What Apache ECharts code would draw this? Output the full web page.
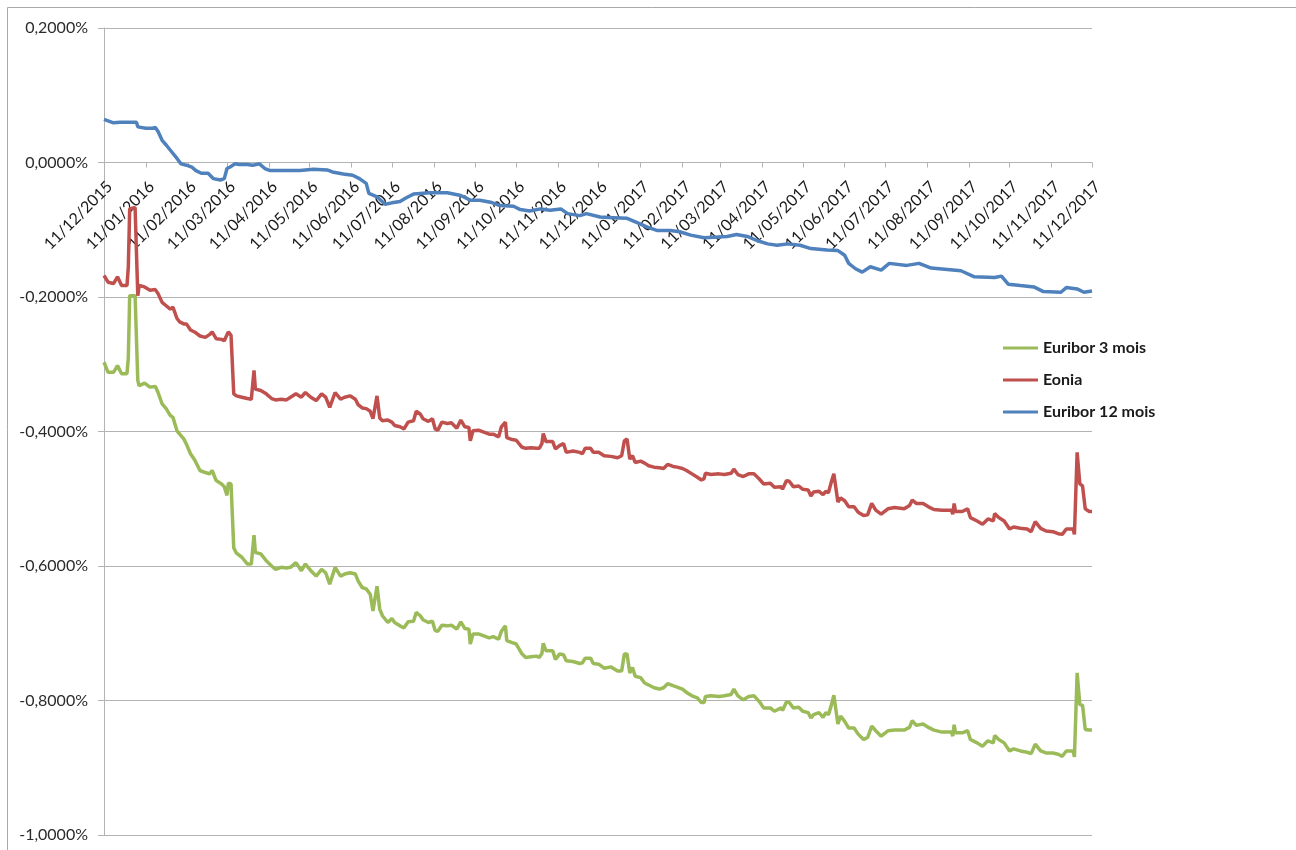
<!DOCTYPE html>
<html>
<head>
<meta charset="utf-8">
<title>Eonia / Euribor</title>
<script src="https://cdn.jsdelivr.net/npm/echarts@6/dist/echarts.min.js"></script>
<style>
  html, body { margin: 0; padding: 0; background: #ffffff; }
  #chart { width: 1296px; height: 850px; }
</style>
</head>
<body>
<div id="chart"></div>
<script>
// Month ticks on the date axis (the 11th of each month)
const tickLabels = [
  '11/12/2015', '11/01/2016', '11/02/2016', '11/03/2016', '11/04/2016', '11/05/2016',
  '11/06/2016', '11/07/2016', '11/08/2016', '11/09/2016', '11/10/2016', '11/11/2016',
  '11/12/2016', '11/01/2017', '11/02/2017', '11/03/2017', '11/04/2017', '11/05/2017',
  '11/06/2017', '11/07/2017', '11/08/2017', '11/09/2017', '11/10/2017', '11/11/2017',
  '11/12/2017'
];

// Observation dates shared by Eonia and Euribor 3 mois
const datesShort = [
  '2015-12-11','2015-12-14','2015-12-18','2015-12-21','2015-12-24','2015-12-28','2015-12-29','2015-12-30',
  '2016-01-03','2016-01-05','2016-01-06','2016-01-10','2016-01-14','2016-01-18','2016-01-20','2016-01-23',
  '2016-01-26','2016-01-29','2016-01-31','2016-02-03','2016-02-05','2016-02-08','2016-02-10','2016-02-13',
  '2016-02-16','2016-02-20','2016-02-24','2016-02-27','2016-02-29','2016-03-03','2016-03-07','2016-03-09',
  '2016-03-11','2016-03-12','2016-03-14','2016-03-16','2016-03-18','2016-03-22','2016-03-26','2016-03-29',
  '2016-03-31','2016-04-01','2016-04-05','2016-04-09','2016-04-13','2016-04-16','2016-04-20','2016-04-24',
  '2016-04-27','2016-05-01','2016-05-05','2016-05-08','2016-05-12','2016-05-16','2016-05-20','2016-05-23',
  '2016-05-26','2016-05-30','2016-06-03','2016-06-06','2016-06-10','2016-06-14','2016-06-16','2016-06-19',
  '2016-06-22','2016-06-25','2016-06-27','2016-06-30','2016-07-02','2016-07-04','2016-07-08','2016-07-11',
  '2016-07-13','2016-07-17','2016-07-20','2016-07-23','2016-07-27','2016-07-29','2016-08-01','2016-08-03',
  '2016-08-07','2016-08-10','2016-08-12','2016-08-14','2016-08-17','2016-08-21','2016-08-24','2016-08-28',
  '2016-08-31','2016-09-03','2016-09-06','2016-09-07','2016-09-09','2016-09-13','2016-09-17','2016-09-21',
  '2016-09-24','2016-09-28','2016-09-30','2016-10-03','2016-10-04','2016-10-08','2016-10-11','2016-10-15',
  '2016-10-18','2016-10-22','2016-10-26','2016-10-28','2016-10-30','2016-10-31','2016-11-02','2016-11-07',
  '2016-11-09','2016-11-12','2016-11-15','2016-11-17','2016-11-22','2016-11-27','2016-11-29','2016-12-01',
  '2016-12-05','2016-12-07','2016-12-11','2016-12-15','2016-12-20','2016-12-25','2016-12-28','2016-12-30',
  '2017-01-01','2017-01-03','2017-01-05','2017-01-07','2017-01-11','2017-01-14','2017-01-17','2017-01-21',
  '2017-01-25','2017-01-28','2017-01-31','2017-02-04','2017-02-07','2017-02-11','2017-02-14','2017-02-18',
  '2017-02-22','2017-02-25','2017-02-27','2017-02-28','2017-03-04','2017-03-10','2017-03-14','2017-03-19',
  '2017-03-21','2017-03-24','2017-03-28','2017-04-01','2017-04-05','2017-04-09','2017-04-12','2017-04-17',
  '2017-04-20','2017-04-25','2017-04-26','2017-04-29','2017-05-01','2017-05-04','2017-05-08','2017-05-11',
  '2017-05-15','2017-05-17','2017-05-19','2017-05-23','2017-05-26','2017-05-28','2017-05-30','2017-06-01',
  '2017-06-03','2017-06-04','2017-06-06','2017-06-08','2017-06-11','2017-06-14','2017-06-18','2017-06-21',
  '2017-06-25','2017-06-28','2017-07-01','2017-07-04','2017-07-08','2017-07-13','2017-07-18','2017-07-25',
  '2017-07-29','2017-07-31','2017-08-03','2017-08-08','2017-08-12','2017-08-16','2017-08-22','2017-08-29',
  '2017-08-30','2017-08-31','2017-09-01','2017-09-06','2017-09-10','2017-09-12','2017-09-17','2017-09-21',
  '2017-09-25','2017-09-29','2017-09-30','2017-10-03','2017-10-07','2017-10-11','2017-10-14','2017-10-19',
  '2017-10-24','2017-10-27','2017-10-30','2017-11-03','2017-11-07','2017-11-12','2017-11-16','2017-11-19',
  '2017-11-22','2017-11-27','2017-11-28','2017-11-30','2017-12-02','2017-12-04','2017-12-06','2017-12-09',
  '2017-12-11'
];

// Eonia (%)
const eonia = [
  -0.168,-0.178,-0.180,-0.170,-0.183,-0.183,-0.155,-0.069,
  -0.067,-0.198,-0.183,-0.185,-0.190,-0.189,-0.195,-0.208,
  -0.213,-0.218,-0.215,-0.232,-0.237,-0.240,-0.240,-0.249,
  -0.252,-0.258,-0.260,-0.256,-0.252,-0.262,-0.263,-0.265,
  -0.256,-0.252,-0.257,-0.344,-0.347,-0.349,-0.351,-0.352,
  -0.309,-0.337,-0.339,-0.344,-0.351,-0.353,-0.352,-0.353,
  -0.349,-0.344,-0.349,-0.342,-0.349,-0.354,-0.344,-0.349,
  -0.364,-0.342,-0.352,-0.349,-0.347,-0.352,-0.360,-0.365,
  -0.366,-0.370,-0.381,-0.347,-0.380,-0.384,-0.383,-0.386,
  -0.391,-0.393,-0.396,-0.386,-0.384,-0.370,-0.374,-0.381,
  -0.385,-0.381,-0.396,-0.398,-0.386,-0.388,-0.387,-0.395,
  -0.383,-0.393,-0.394,-0.414,-0.399,-0.398,-0.401,-0.404,
  -0.404,-0.408,-0.393,-0.386,-0.409,-0.412,-0.413,-0.423,
  -0.425,-0.424,-0.425,-0.425,-0.418,-0.403,-0.415,-0.415,
  -0.426,-0.421,-0.418,-0.431,-0.429,-0.431,-0.433,-0.425,
  -0.425,-0.431,-0.431,-0.436,-0.437,-0.439,-0.436,-0.414,
  -0.411,-0.441,-0.436,-0.446,-0.444,-0.447,-0.451,-0.453,
  -0.454,-0.455,-0.449,-0.452,-0.453,-0.455,-0.458,-0.463,
  -0.468,-0.472,-0.470,-0.462,-0.464,-0.463,-0.464,-0.462,
  -0.456,-0.464,-0.467,-0.463,-0.463,-0.471,-0.478,-0.477,
  -0.483,-0.482,-0.486,-0.473,-0.474,-0.482,-0.481,-0.486,
  -0.487,-0.496,-0.490,-0.489,-0.494,-0.489,-0.491,-0.476,
  -0.463,-0.463,-0.505,-0.499,-0.503,-0.512,-0.512,-0.520,
  -0.525,-0.524,-0.507,-0.517,-0.523,-0.515,-0.513,-0.515,
  -0.510,-0.502,-0.507,-0.507,-0.512,-0.516,-0.517,-0.517,
  -0.523,-0.507,-0.519,-0.519,-0.515,-0.528,-0.533,-0.538,
  -0.530,-0.533,-0.522,-0.528,-0.533,-0.545,-0.542,-0.544,
  -0.545,-0.549,-0.534,-0.544,-0.548,-0.549,-0.552,-0.553,
  -0.545,-0.545,-0.553,-0.431,-0.478,-0.481,-0.515,-0.519,
  -0.519
];

// Euribor 3 mois (%)
const euribor3m = [
  -0.297,-0.312,-0.312,-0.302,-0.314,-0.314,-0.290,-0.198,
  -0.198,-0.324,-0.332,-0.328,-0.334,-0.333,-0.342,-0.359,
  -0.366,-0.376,-0.379,-0.399,-0.404,-0.411,-0.419,-0.433,
  -0.442,-0.458,-0.461,-0.463,-0.458,-0.473,-0.478,-0.482,
  -0.495,-0.477,-0.478,-0.573,-0.581,-0.587,-0.597,-0.597,
  -0.554,-0.580,-0.582,-0.592,-0.600,-0.605,-0.602,-0.603,
  -0.602,-0.595,-0.607,-0.597,-0.607,-0.615,-0.605,-0.610,
  -0.627,-0.602,-0.615,-0.612,-0.610,-0.612,-0.622,-0.632,
  -0.634,-0.642,-0.667,-0.630,-0.664,-0.674,-0.684,-0.678,
  -0.684,-0.689,-0.692,-0.683,-0.682,-0.669,-0.674,-0.680,
  -0.684,-0.682,-0.696,-0.697,-0.688,-0.689,-0.688,-0.694,
  -0.683,-0.693,-0.694,-0.716,-0.701,-0.701,-0.704,-0.707,
  -0.705,-0.709,-0.697,-0.689,-0.711,-0.714,-0.716,-0.730,
  -0.736,-0.735,-0.734,-0.736,-0.730,-0.715,-0.726,-0.726,
  -0.739,-0.731,-0.732,-0.741,-0.742,-0.745,-0.744,-0.737,
  -0.737,-0.745,-0.746,-0.752,-0.750,-0.756,-0.756,-0.731,
  -0.731,-0.759,-0.751,-0.764,-0.766,-0.774,-0.777,-0.781,
  -0.783,-0.781,-0.775,-0.778,-0.780,-0.783,-0.788,-0.793,
  -0.796,-0.803,-0.803,-0.794,-0.793,-0.794,-0.793,-0.791,
  -0.783,-0.793,-0.799,-0.794,-0.793,-0.802,-0.811,-0.811,
  -0.816,-0.811,-0.815,-0.802,-0.803,-0.811,-0.810,-0.816,
  -0.818,-0.826,-0.821,-0.818,-0.825,-0.818,-0.821,-0.808,
  -0.792,-0.792,-0.835,-0.823,-0.831,-0.841,-0.841,-0.850,
  -0.858,-0.855,-0.838,-0.845,-0.853,-0.845,-0.844,-0.844,
  -0.840,-0.830,-0.837,-0.835,-0.840,-0.844,-0.847,-0.847,
  -0.853,-0.836,-0.848,-0.848,-0.845,-0.858,-0.863,-0.868,
  -0.860,-0.863,-0.852,-0.858,-0.863,-0.875,-0.872,-0.875,
  -0.877,-0.879,-0.865,-0.875,-0.878,-0.878,-0.880,-0.883,
  -0.875,-0.875,-0.884,-0.759,-0.806,-0.807,-0.843,-0.844,
  -0.844
];

// Observation dates for Euribor 12 mois
const dates12m = [
  '2015-12-11','2015-12-18','2015-12-23','2016-01-04','2016-01-05','2016-01-11','2016-01-16','2016-01-18',
  '2016-01-20','2016-01-23','2016-01-26','2016-01-30','2016-02-03','2016-02-06','2016-02-10','2016-02-14',
  '2016-02-17','2016-02-21','2016-02-26','2016-03-01','2016-03-06','2016-03-09','2016-03-11','2016-03-13',
  '2016-03-17','2016-03-20','2016-03-26','2016-03-30','2016-04-04','2016-04-08','2016-04-12','2016-04-21',
  '2016-05-04','2016-05-14','2016-05-24','2016-05-28','2016-06-05','2016-06-12','2016-06-17','2016-06-22',
  '2016-06-24','2016-06-30','2016-07-06','2016-07-11','2016-07-17','2016-07-22','2016-07-27','2016-08-08',
  '2016-08-21','2016-08-31','2016-09-07','2016-09-14','2016-09-22','2016-09-29','2016-10-09','2016-10-14',
  '2016-10-21','2016-10-29','2016-11-05','2016-11-13','2016-11-18','2016-11-27','2016-12-02','2016-12-12',
  '2016-12-22','2017-01-01','2017-01-08','2017-01-16','2017-01-23','2017-02-02','2017-02-09','2017-02-17',
  '2017-02-27','2017-03-06','2017-03-16','2017-03-23','2017-03-31','2017-04-07','2017-04-15','2017-04-22',
  '2017-04-30','2017-05-09','2017-05-17','2017-05-29','2017-06-06','2017-06-11','2017-06-14','2017-06-19',
  '2017-06-24','2017-06-30','2017-07-08','2017-07-14','2017-07-27','2017-08-05','2017-08-14','2017-08-26',
  '2017-09-05','2017-09-15','2017-09-30','2017-10-05','2017-10-10','2017-10-19','2017-10-29','2017-11-05',
  '2017-11-18','2017-11-22','2017-11-30','2017-12-05','2017-12-11'
];

// Euribor 12 mois (%)
const euribor12m = [
  0.064, 0.059, 0.060, 0.060, 0.053, 0.051, 0.051, 0.052,
  0.046, 0.033, 0.026, 0.016, 0.006,-0.002,-0.004,-0.007,
  -0.012,-0.016,-0.016,-0.024,-0.026,-0.024,-0.009,-0.007,
  -0.002,-0.003,-0.003,-0.004,-0.002,-0.009,-0.012,-0.012,
  -0.012,-0.010,-0.011,-0.014,-0.017,-0.019,-0.024,-0.031,
  -0.046,-0.051,-0.062,-0.060,-0.058,-0.052,-0.047,-0.045,
  -0.045,-0.049,-0.056,-0.056,-0.059,-0.064,-0.065,-0.070,
  -0.072,-0.069,-0.071,-0.069,-0.076,-0.079,-0.076,-0.081,
  -0.082,-0.083,-0.089,-0.096,-0.101,-0.101,-0.103,-0.108,
  -0.112,-0.111,-0.110,-0.107,-0.110,-0.116,-0.121,-0.123,
  -0.121,-0.123,-0.128,-0.130,-0.131,-0.138,-0.150,-0.158,
  -0.163,-0.155,-0.160,-0.150,-0.153,-0.150,-0.157,-0.159,
  -0.161,-0.170,-0.171,-0.169,-0.181,-0.183,-0.185,-0.192,
  -0.193,-0.186,-0.188,-0.193,-0.191
];

const seriesNames = ['Euribor 3 mois', 'Eonia', 'Euribor 12 mois'];
const seriesColors = ['#9BBB59', '#C0504D', '#4F81BD'];

// Rate axis range (%)
const Y_MIN = -1.0, Y_MAX = 0.2, Y_STEP = 0.2;

// Plot area
const GRID = { left: 104, right: 204, top: 28, bottom: 15 };
const CHART_H = 850;

// Dates are mapped to a day count so the horizontal axis can be a plain linear scale
const DAY = 86400000;
function parseDay(s) {
  const p = s.split('-');
  return Date.UTC(+p[0], +p[1] - 1, +p[2]) / DAY;
}
function parseTick(s) {
  const p = s.split('/');
  return Date.UTC(+p[2], +p[1] - 1, +p[0]) / DAY;
}
function pad2(n) { return (n < 10 ? '0' : '') + n; }
function formatDay(v) {
  const d = new Date(Math.round(v) * DAY);
  return pad2(d.getUTCDate()) + '/' + pad2(d.getUTCMonth() + 1) + '/' + d.getUTCFullYear();
}
function pairs(dates, values) {
  return dates.map((d, i) => [parseDay(d), values[i]]);
}

const tickValues = tickLabels.map(parseTick);
const FONT = 'Lato, "Liberation Sans", sans-serif';

// The date axis runs along the 0 % line: lift it from the bottom of the plot area
const plotH = CHART_H - GRID.top - GRID.bottom;
const zeroLift = plotH * (0 - Y_MIN) / (Y_MAX - Y_MIN);

const chart = echarts.init(document.getElementById('chart'), null, { renderer: 'canvas' });

chart.setOption({
  backgroundColor: '#ffffff',
  animation: false,
  graphic: [{
    type: 'rect',
    shape: { x: 7.5, y: 7.5, width: 1320, height: 900 },
    style: { fill: 'none', stroke: '#a9a9a9', lineWidth: 1 },
    silent: true,
    z: -1
  }],
  grid: {
    left: GRID.left, right: GRID.right, top: GRID.top, bottom: GRID.bottom,
    containLabel: false,
    outerBoundsMode: 'none'
  },
  legend: {
    orient: 'vertical',
    left: 1003,
    top: 338,
    padding: 0,
    itemWidth: 35,
    itemHeight: 3,
    itemGap: 12,
    icon: 'rect',
    data: seriesNames,
    textStyle: {
      fontFamily: FONT,
      fontSize: 16,
      fontWeight: 'bold',
      color: '#1a1a1a',
      lineHeight: 20
    }
  },
  xAxis: {
    type: 'value',
    min: tickValues[0],
    max: tickValues[tickValues.length - 1],
    scale: true,
    offset: -zeroLift,
    axisLine: { onZero: false, lineStyle: { color: '#b3b3b3', width: 1 } },
    axisTick: {
      show: true,
      length: 5,
      customValues: tickValues,
      lineStyle: { color: '#b3b3b3' }
    },
    axisLabel: {
      customValues: tickValues,
      rotate: 45,
      margin: 16,
      align: 'right',
      verticalAlign: 'top',
      fontFamily: FONT,
      fontSize: 16,
      color: '#1a1a1a',
      hideOverlap: false,
      showMinLabel: true,
      showMaxLabel: true,
      formatter: formatDay
    },
    splitLine: { show: false }
  },
  yAxis: {
    type: 'value',
    min: Y_MIN,
    max: Y_MAX,
    interval: Y_STEP,
    axisLine: { show: true, onZero: false, lineStyle: { color: '#b3b3b3', width: 1 } },
    axisTick: { show: true, length: 6, lineStyle: { color: '#b3b3b3' } },
    axisLabel: {
      margin: 16,
      fontFamily: FONT,
      fontSize: 16,
      color: '#2b2b2b',
      formatter: function (v) {
        return v.toFixed(4).replace('.', ',') + '%';
      }
    },
    splitLine: { show: true, lineStyle: { color: '#b3b3b3', width: 1 } }
  },
  series: [
    {
      name: seriesNames[0],
      type: 'line',
      data: pairs(datesShort, euribor3m),
      showSymbol: false,
      color: seriesColors[0],
      lineStyle: { width: 3.5, color: seriesColors[0] }
    },
    {
      name: seriesNames[1],
      type: 'line',
      data: pairs(datesShort, eonia),
      showSymbol: false,
      color: seriesColors[1],
      lineStyle: { width: 3.5, color: seriesColors[1] }
    },
    {
      name: seriesNames[2],
      type: 'line',
      data: pairs(dates12m, euribor12m),
      showSymbol: false,
      color: seriesColors[2],
      lineStyle: { width: 3.5, color: seriesColors[2] }
    }
  ]
});
</script>
</body>
</html>
